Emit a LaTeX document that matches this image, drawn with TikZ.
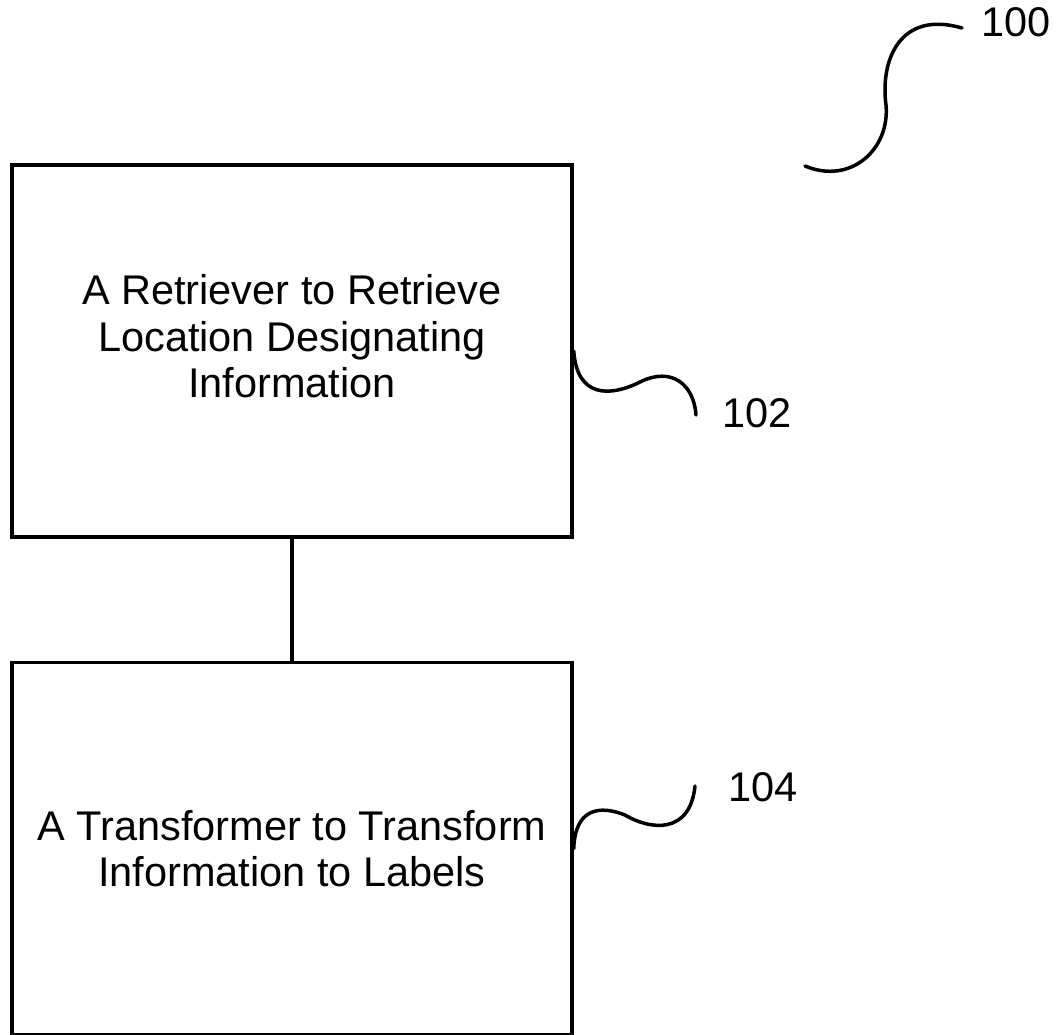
\documentclass[tikz,border=0pt]{standalone}
\usepackage{fontspec}
\setmainfont{Liberation Sans}
\usepackage{tikz}
\usetikzlibrary{positioning}

\begin{document}
\begin{tikzpicture}[
    x=1pt, y=-1pt,
    node distance=122pt,
    block/.style={rectangle, draw, line width=3.5pt, minimum width=560pt, minimum height=372pt, align=center, font=\fontsize{41.5}{46.5}\selectfont},
    refnum/.style={font=\fontsize{41.5}{46.5}\selectfont},
    lead/.style={line width=3.5pt, line cap=round},
]
\useasboundingbox (0,0) rectangle (1057,1034);
\node[block, text depth=30pt] (retriever) at (292,351) {A Retriever to Retrieve\\Location Designating\\Information};
\node[block, below=of retriever] (transformer) {A Transformer to Transform\\Information to Labels};
\draw[line width=3.5pt] (retriever) -- (transformer);
% reference numerals
\node[refnum] (n100) at (1016,22) {100};
\node[refnum] (n102) at (757,413) {102};
\node[refnum] (n104) at (763,787) {104};
\coordinate (e100) at (805,166);
\coordinate (e102) at (696,415);
\coordinate (e104) at (695,786);
\draw[lead] (e100) .. controls (850,185) and (890,150) .. (886,105) .. controls (880,60) and (900,10) .. (962,28);
\draw[lead] (retriever.east) .. controls (577,398) and (610,397) .. (640,382) .. controls (672,366) and (694,385) .. (e102);
\draw[lead] (transformer.east) .. controls (575,808) and (600,805) .. (625,815) .. controls (650,830) and (690,835) .. (e104);
\end{tikzpicture}
\end{document}
